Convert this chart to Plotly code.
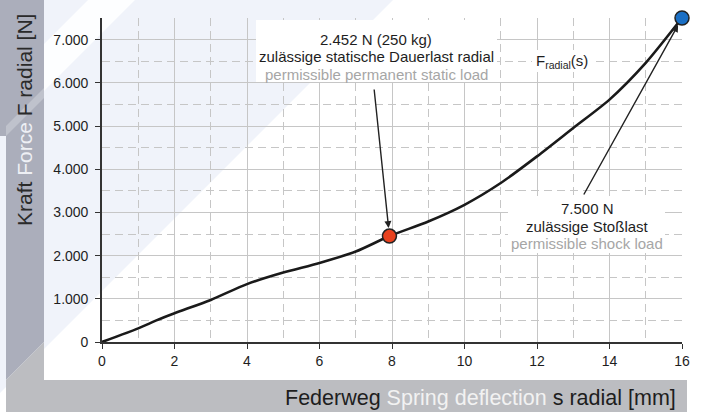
import plotly.graph_objects as go

# ---- data ----
deflection_mm = [0, 1, 1.5, 2, 3, 4, 5, 6, 7, 7.93, 9, 10, 11, 12, 13, 14, 15, 16]
force_N = [0, 315, 500, 665, 974, 1340, 1607, 1830, 2094, 2452, 2790, 3176, 3680, 4297, 4954, 5611, 6461, 7500]
static_point = (7.93, 2452)
shock_point = (16, 7500)
x_ticks = [0, 2, 4, 6, 8, 10, 12, 14, 16]
y_ticks = [0, 1000, 2000, 3000, 4000, 5000, 6000, 7000]

W, H = 703, 412
ML, MR, MT, MB = 102, 21, 18, 70
PW, PH = W - ML - MR, H - MT - MB

def xp(px):
    return (px - ML) / PW

def yp(py):
    return (H - MB - py) / PH

def path(points):
    return "M " + " L ".join(f"{xp(a):.5f},{yp(b):.5f}" for a, b in points) + " Z"

FONT = "Arial, Liberation Sans, sans-serif"
DARK = "#1e1e1e"
GRAYTXT = "#a6a6a6"

fig = go.Figure()

fig.add_trace(go.Scatter(
    x=deflection_mm, y=force_N, mode="lines",
    line=dict(color="#1a1a1a", width=2.6, shape="spline", smoothing=0.7),
    hoverinfo="skip", showlegend=False, cliponaxis=False))

fig.add_trace(go.Scatter(
    x=[static_point[0]], y=[static_point[1]], mode="markers",
    marker=dict(size=14, color="#e8411e", line=dict(color="#222", width=1.5)),
    showlegend=False, cliponaxis=False))
fig.add_trace(go.Scatter(
    x=[shock_point[0]], y=[shock_point[1]], mode="markers",
    marker=dict(size=14, color="#1b6fc4", line=dict(color="#222", width=1.5)),
    showlegend=False, cliponaxis=False))

shapes = []
# light blue diagonal background
shapes.append(dict(type="path", path=path([(0, 0), (393, 0), (0, 393)]),
                   xref="paper", yref="paper", fillcolor="#f0f3fa", line=dict(width=0), layer="below"))
# white diagonal stripe
shapes.append(dict(type="path", path=path([(88, 0), (135, 0), (0, 135), (0, 88)]),
                   xref="paper", yref="paper", fillcolor="rgba(255,255,255,0.85)", line=dict(width=0), layer="below"))
# left band (dark)
shapes.append(dict(type="path", path=path([(0, 0), (44, 0), (44, 342), (6, 380), (6, 136), (0, 136)]),
                   xref="paper", yref="paper", fillcolor="#abaebb", line=dict(width=0), layer="below"))
# lighter stripe in band
shapes.append(dict(type="path", path=path([(44, 88), (44, 98), (6, 136), (6, 126)]),
                   xref="paper", yref="paper", fillcolor="#bfc2cc", line=dict(width=0), layer="below"))
# bottom band + lower band part
shapes.append(dict(type="path", path=path([(44, 342), (44, 380), (687, 380), (687, 412), (6, 412), (6, 380)]),
                   xref="paper", yref="paper", fillcolor="#bcbdc1", line=dict(width=0), layer="below"))

# white boxes behind labels
for (x0, y0, x1, y1) in [(256, 20, 497, 82), (508, 196, 665, 253), (532, 50, 592, 72)]:
    shapes.append(dict(type="rect", xref="paper", yref="paper",
                       x0=xp(x0), x1=xp(x1), y0=yp(y1), y1=yp(y0),
                       fillcolor="white", line=dict(width=0), layer="above"))

annotations = []

def label(text, px, py, color=DARK, size=15):
    annotations.append(dict(text=text, xref="paper", yref="paper", x=xp(px), y=yp(py),
                            xanchor="center", yanchor="middle", showarrow=False,
                            font=dict(family=FONT, size=size, color=color)))

label("2.452 N (250 kg)", 376, 40)
label("zulässige statische Dauerlast radial", 376, 57)
label("permissible permanent static load", 376, 74, GRAYTXT)
label("7.500 N", 587, 209)
label("zulässige Stoßlast", 587, 226)
label("permissible shock load", 587, 243, GRAYTXT)
label("F<sub>radial</sub>(s)", 562, 61)

# arrows
annotations.append(dict(x=static_point[0], y=static_point[1], xref="x", yref="y",
                        ax=(374 - ML) / PW * 16, ay=(H - MB - 88) / PH * 7500, axref="x", ayref="y",
                        text="", showarrow=True, arrowhead=2, arrowsize=1, arrowwidth=1.4,
                        arrowcolor="#222", standoff=8))
annotations.append(dict(x=shock_point[0], y=shock_point[1], xref="x", yref="y",
                        ax=(583 - ML) / PW * 16, ay=(H - MB - 196) / PH * 7500, axref="x", ayref="y",
                        text="", showarrow=True, arrowhead=2, arrowsize=1, arrowwidth=1.4,
                        arrowcolor="#222", standoff=8))

# axis titles
annotations.append(dict(text="Kraft <span style='color:#eef0f5'>Force</span> F radial [N]",
                        xref="paper", yref="paper", x=xp(25), y=yp(120), textangle=-90,
                        xanchor="center", yanchor="middle", showarrow=False,
                        font=dict(family=FONT, size=21, color="#2a2a2a")))
annotations.append(dict(text="Federweg <span style='color:#f2f2f2'>Spring deflection</span> s radial [mm]",
                        xref="paper", yref="paper", x=xp(678), y=yp(398),
                        xanchor="right", yanchor="middle", showarrow=False,
                        font=dict(family=FONT, size=21.5, color="#1e1e1e")))

grid_col = "#c6c6c6"
fig.update_layout(
    width=W, height=H,
    margin=dict(l=ML, r=MR, t=MT, b=MB, pad=0),
    paper_bgcolor="white", plot_bgcolor="rgba(0,0,0,0)",
    separators=",.",
    font=dict(family=FONT, color=DARK),
    shapes=shapes, annotations=annotations,
    xaxis=dict(range=[0, 16], tickvals=x_ticks, ticks="outside", ticklen=5, tickwidth=1.2,
               tickcolor="#333", showline=True, linecolor="#333", linewidth=1.6,
               showgrid=True, gridcolor=grid_col, gridwidth=1, zeroline=False,
               tickfont=dict(size=14, color=DARK),
               minor=dict(dtick=1, showgrid=True, gridcolor=grid_col, griddash="8px,5px", gridwidth=1)),
    yaxis=dict(range=[0, 7500], tickvals=y_ticks, tickformat=",d", ticks="outside", ticklen=5,
               tickwidth=1.2, tickcolor="#333", showline=True, linecolor="#333", linewidth=1.6,
               showgrid=True, gridcolor=grid_col, gridwidth=1, zeroline=False,
               tickfont=dict(size=14, color=DARK), ticklabelstandoff=4,
               minor=dict(dtick=500, showgrid=True, gridcolor=grid_col, griddash="8px,5px", gridwidth=1)),
)

fig.write_html("out.html", config={"displayModeBar": False},
               post_script="document.body.style.margin='0';document.body.style.overflow='hidden';")
